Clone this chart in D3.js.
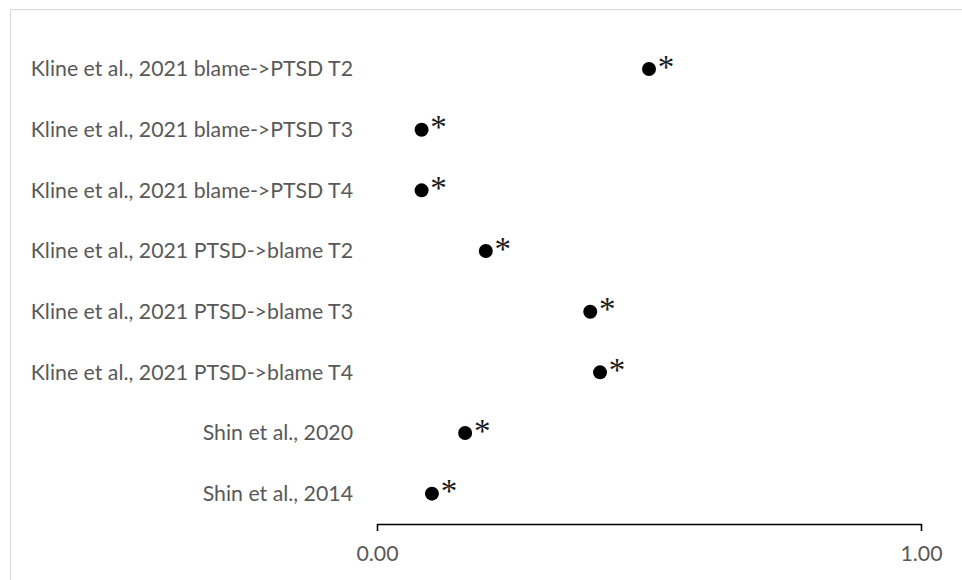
<!DOCTYPE html>
<html>
<head>
<meta charset="utf-8">
<script src="https://cdn.jsdelivr.net/npm/d3@7"></script>
<style>
  html, body { margin: 0; padding: 0; background: #fff; }
  svg { display: block; }
</style>
</head>
<body>
<svg id="chart" width="962" height="580"></svg>
<script>
const categories = [
  "Kline et al., 2021 blame->PTSD T2",
  "Kline et al., 2021 blame->PTSD T3",
  "Kline et al., 2021 blame->PTSD T4",
  "Kline et al., 2021 PTSD->blame T2",
  "Kline et al., 2021 PTSD->blame T3",
  "Kline et al., 2021 PTSD->blame T4",
  "Shin et al., 2020",
  "Shin et al., 2014"
];
const values = [0.50, 0.082, 0.082, 0.20, 0.392, 0.410, 0.162, 0.101];
const markers = ["*", "*", "*", "*", "*", "*", "*", "*"];
const xTicks = [0, 1];

const svg = d3.select("#chart");

// chart area border
svg.append("rect")
  .attr("x", 10.5).attr("y", 9.5)
  .attr("width", 1000).attr("height", 1000)
  .attr("fill", "none")
  .attr("stroke", "#d9d9d9")
  .attr("stroke-width", 1);

const x = d3.scaleLinear().domain([0, 1]).range([377, 921]);
const y = d3.scalePoint().domain(categories).range([38.7, 524]).padding(0.5);

// axis
const axis = d3.axisBottom(x)
  .tickValues(xTicks)
  .tickFormat(d3.format(".2f"))
  .tickSizeInner(7)
  .tickSizeOuter(0)
  .tickPadding(15);

const gAxis = svg.append("g")
  .attr("transform", "translate(0,524)")
  .call(axis);
gAxis.select(".domain").attr("stroke", "#000").attr("stroke-width", 1.6);
gAxis.selectAll(".tick line").attr("stroke", "#000").attr("stroke-width", 1.6);
gAxis.selectAll(".tick text")
  .attr("font-family", "Lato, 'Open Sans', sans-serif")
  .attr("font-size", 21.3)
  .attr("fill", "#595959");

// category labels
svg.append("g").selectAll("text")
  .data(categories)
  .join("text")
  .attr("x", 353)
  .attr("y", d => y(d))
  .attr("dy", "0.35em")
  .attr("text-anchor", "end")
  .attr("font-family", "Lato, 'Open Sans', sans-serif")
  .attr("font-size", 21.3)
  .attr("fill", "#595959")
  .text(d => d);

// points
svg.append("g").selectAll("circle")
  .data(categories)
  .join("circle")
  .attr("cx", (d, i) => x(values[i]))
  .attr("cy", d => y(d))
  .attr("r", 7)
  .attr("fill", "#000");

// asterisk markers
svg.append("g").selectAll("text")
  .data(categories)
  .join("text")
  .attr("x", (d, i) => x(values[i]) + 17)
  .attr("y", d => y(d) + 8.5)
  .attr("text-anchor", "middle")
  .attr("font-family", "'Liberation Serif', 'DejaVu Serif', serif")
  .attr("font-size", 33)
  .attr("fill", "#1a1a1a")
  .text((d, i) => markers[i]);
</script>
</body>
</html>
